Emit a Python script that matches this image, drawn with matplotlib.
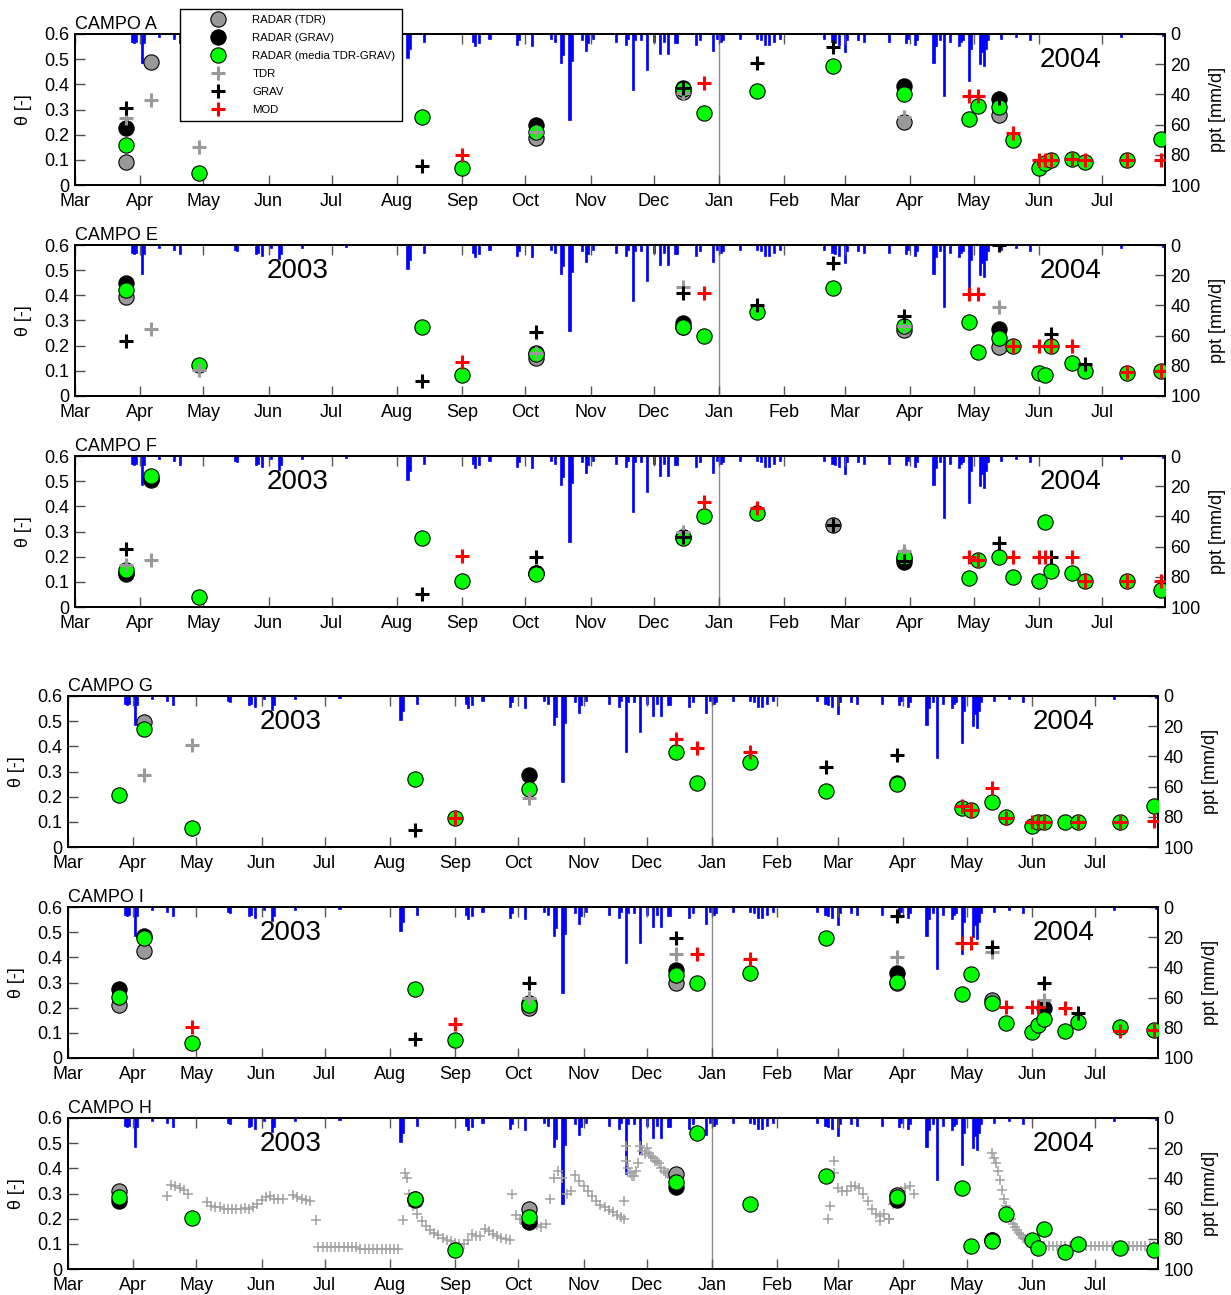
import numpy as np
import matplotlib
matplotlib.use('Agg')
import matplotlib.pyplot as plt
from matplotlib.lines import Line2D

plt.rcParams['font.family'] = ['Liberation Sans', 'DejaVu Sans']

n = np.nan

# ---------------- campaign dates ----------------
campaign_dates = np.array(['2003-03-25', '2003-04-06', '2003-04-29', '2003-08-13', '2003-09-01',
                           '2003-10-06', '2003-12-15', '2003-12-25', '2004-01-19', '2004-02-24',
                           '2004-03-29', '2004-04-29', '2004-05-03', '2004-05-13', '2004-05-20',
                           '2004-06-01', '2004-06-04', '2004-06-07', '2004-06-17', '2004-06-23',
                           '2004-07-13', '2004-07-29'], dtype='datetime64[D]')

# ---------------- CAMPO A ----------------
A_radar_tdr  = [0.09, 0.488, n, n, n, 0.186, 0.37, n, n, n, 0.25, n, n, 0.278, n, n, n, n, n, n, n, n]
A_radar_grav = [0.226, n, n, n, n, 0.238, 0.385, n, n, n, 0.393, n, n, 0.34, n, n, n, n, n, n, n, n]
A_radar_mean = [0.159, n, 0.048, 0.27, 0.068, 0.21, 0.38, 0.287, 0.375, 0.474, 0.36, 0.262, 0.314, 0.31,
                0.18, 0.068, 0.087, 0.1, 0.105, 0.09, 0.1, 0.182]
A_tdr  = [0.265, 0.338, 0.152, n, n, 0.21, 0.365, n, n, n, 0.27, n, n, n, n, n, n, n, n, n, n, n]
A_grav = [0.305, n, n, 0.076, n, n, 0.385, n, 0.485, 0.55, n, n, n, 0.345, n, n, n, n, n, n, n, n]
A_mod  = [n, n, n, n, 0.12, n, n, 0.405, n, n, n, 0.355, 0.355, n, 0.206, 0.1, 0.1, 0.1, 0.105, 0.1, 0.1, 0.1]

# ---------------- CAMPO E ----------------
E_radar_tdr  = [0.393, n, n, n, n, 0.151, 0.275, n, n, n, 0.262, n, n, 0.195, n, n, n, n, n, n, n, n]
E_radar_grav = [0.449, n, n, n, n, 0.17, 0.29, n, n, n, n, n, n, 0.266, n, n, n, n, n, n, n, n]
E_radar_mean = [0.42, n, 0.123, 0.274, 0.083, 0.167, 0.274, 0.238, 0.334, 0.43, 0.278, 0.294, 0.175, 0.23,
                0.2, 0.09, 0.083, 0.2, 0.13, 0.1, 0.09, 0.1]
E_tdr  = [n, 0.266, 0.103, n, n, 0.17, 0.433, n, n, n, 0.28, n, n, 0.354, n, n, n, n, n, n, n, n]
E_grav = [0.218, n, n, 0.06, n, 0.254, 0.41, n, 0.36, 0.528, 0.318, n, n, 0.6, n, n, n, 0.246, n, 0.127, n, n]
E_mod  = [n, n, n, n, 0.135, n, n, 0.41, n, n, n, 0.405, 0.405, n, 0.2, 0.2, n, 0.2, 0.2, n, 0.095, 0.1]

# ---------------- CAMPO F ----------------
F_radar_tdr  = [0.135, 0.509, n, n, n, 0.135, 0.28, n, n, 0.326, 0.19, n, n, n, n, n, n, n, n, n, n, n]
F_radar_grav = [0.13, 0.505, n, n, n, 0.135, 0.28, n, n, n, 0.18, n, n, n, n, n, n, n, n, n, n, n]
F_radar_mean = [0.147, 0.52, 0.04, 0.274, 0.103, 0.13, 0.274, 0.36, 0.373, n, 0.2, 0.115, 0.187, 0.2,
                0.12, 0.103, 0.337, 0.143, 0.135, 0.103, 0.103, 0.068]
F_tdr  = [0.167, 0.187, n, n, n, n, 0.3, n, n, n, 0.222, n, n, n, n, n, n, n, n, n, n, n]
F_grav = [0.23, n, n, 0.052, n, 0.2, 0.28, n, n, 0.326, 0.183, n, n, 0.254, n, n, n, 0.2, n, n, n, n]
F_mod  = [n, n, n, n, 0.203, n, n, 0.417, 0.393, n, n, 0.2, 0.187, n, 0.2, 0.2, 0.2, n, 0.2, 0.103, 0.103, 0.103]

# ---------------- CAMPO G ----------------
G_radar_tdr  = [n, 0.497, n, n, n, n, n, n, n, n, n, n, n, n, n, n, n, n, n, n, n, n]
G_radar_grav = [n, n, n, n, n, 0.286, n, n, n, n, 0.254, n, n, n, n, n, n, n, n, n, n, n]
G_radar_mean = [0.207, 0.469, 0.075, 0.27, 0.115, 0.23, 0.377, 0.254, 0.338, 0.222, 0.25, 0.155, 0.147, 0.179,
                0.119, 0.083, 0.1, 0.1, 0.1, 0.1, 0.1, 0.163]
G_tdr  = [n, 0.286, 0.405, n, n, 0.195, n, n, n, n, n, n, n, n, n, n, n, n, n, n, n, n]
G_grav = [n, n, n, 0.068, n, n, n, n, n, 0.318, 0.366, n, n, n, n, n, n, n, n, n, n, n]
G_mod  = [n, n, n, n, 0.115, n, 0.43, 0.393, 0.377, n, n, 0.163, 0.147, 0.234, 0.115, 0.1, 0.1, 0.1, n, 0.1, 0.1, 0.103]

# ---------------- CAMPO I ----------------
I_radar_tdr  = [0.21, 0.425, n, n, n, 0.2, 0.3, n, n, n, 0.3, n, n, 0.23, n, n, n, n, n, n, n, n]
I_radar_grav = [0.274, 0.485, n, n, n, 0.22, 0.35, n, n, n, 0.338, n, n, n, n, n, n, 0.2, n, n, n, n]
I_radar_mean = [0.242, 0.477, 0.06, 0.274, 0.07, 0.21, 0.33, 0.298, 0.338, 0.477, 0.302, 0.254, 0.334, 0.22,
                0.14, 0.103, 0.13, 0.155, 0.107, 0.143, 0.123, 0.111]
I_tdr  = [n, n, n, n, n, 0.238, 0.413, n, n, n, 0.4, n, n, 0.42, n, n, n, 0.23, n, n, n, n]
I_grav = [n, n, n, 0.075, n, 0.298, 0.477, n, n, n, 0.564, n, n, 0.44, n, n, n, 0.298, n, 0.18, n, n]
I_mod  = [n, n, 0.123, n, 0.135, n, n, 0.413, 0.393, n, n, 0.457, 0.457, n, 0.203, 0.203, 0.203, n, 0.2, n, 0.107, 0.111]

# ---------------- CAMPO H ----------------
H_radar_tdr  = [0.31, n, n, 0.28, n, 0.238, 0.377, n, n, n, 0.294, n, n, 0.115, n, n, n, n, n, n, n, n]
H_radar_grav = [0.27, n, n, 0.275, n, 0.187, 0.326, n, n, n, 0.274, n, n, 0.115, n, n, n, n, n, n, n, n]
H_radar_mean = [0.286, n, 0.203, 0.278, 0.075, 0.207, 0.346, 0.54, 0.258, 0.37, 0.286, 0.322, 0.091, 0.111,
                0.22, 0.117, 0.085, 0.159, 0.068, 0.1, 0.085, 0.075]

# continuous TDR readings of CAMPO H: (first date, days between readings, values)
H_tdr_seg_starts = ['2003-04-17', '2003-05-06', '2003-06-16', '2003-06-28', '2003-08-08', '2003-09-28',
                    '2003-10-16', '2003-11-21', '2004-02-26', '2004-05-13', '2004-06-05']
H_tdr_seg_steps = [2, 2, 2, 2, 2, 2, 2, 1, 2, 1, 2]
H_tdr_seg1 = [0.29, 0.335, 0.33, 0.32, 0.315, 0.30]
H_tdr_seg2 = [0.265, 0.25, 0.248, 0.245, 0.24, 0.24, 0.24, 0.24, 0.24, 0.242, 0.24, 0.245, 0.26, 0.275,
              0.285, 0.29, 0.28, 0.28, 0.28]
H_tdr_seg3 = [0.295, 0.285, 0.28, 0.275, 0.27]
H_tdr_seg4 = [0.087, 0.087, 0.087, 0.087, 0.087, 0.087, 0.087, 0.087, 0.087, 0.087,
              0.08, 0.08, 0.08, 0.08, 0.08, 0.08, 0.08, 0.08, 0.08, 0.08]
H_tdr_seg5 = [0.38, 0.30, 0.25, 0.22, 0.19, 0.17, 0.155, 0.145, 0.135, 0.125, 0.115, 0.11, 0.105, 0.1,
              0.1, 0.115, 0.14, 0.13, 0.13, 0.16, 0.15, 0.14, 0.13, 0.125, 0.12, 0.115]
H_tdr_seg6 = [0.30, 0.215, 0.2, 0.18, 0.17, 0.19, 0.175, 0.165, 0.18]
H_tdr_seg7 = [0.28, 0.36, 0.39, 0.36, 0.3, 0.31, 0.375, 0.35, 0.33, 0.31, 0.29, 0.27, 0.255, 0.245, 0.235,
              0.225, 0.215]
H_tdr_seg8 = [0.43, 0.40, 0.38, 0.37, 0.37, 0.39, 0.42, 0.49, 0.47, 0.455, 0.48, 0.46, 0.45, 0.44, 0.43,
              0.43, 0.42, 0.40, 0.39, 0.38, 0.38, 0.37, 0.36, 0.35, 0.34]
H_tdr_seg9 = [0.25, 0.38, 0.32, 0.31, 0.31, 0.33, 0.33, 0.32, 0.30, 0.27, 0.24, 0.22, 0.21, 0.22, 0.2,
              0.26, 0.29, 0.31, 0.32, 0.33, 0.30]
H_tdr_seg10 = [0.46, 0.44, 0.42, 0.39, 0.355, 0.315, 0.28, 0.25, 0.225, 0.2, 0.18, 0.165, 0.155, 0.145,
               0.135, 0.125, 0.12, 0.115, 0.11, 0.105, 0.1, 0.1]
H_tdr_seg11 = [0.095, 0.092, 0.092, 0.092, 0.092, 0.092, 0.092, 0.092, 0.092, 0.092, 0.092, 0.092, 0.092,
               0.092, 0.092, 0.092, 0.092, 0.092, 0.092, 0.092, 0.092, 0.092, 0.092, 0.092, 0.092, 0.092,
               0.092, 0.092, 0.092]
H_tdr_extra_dates = ['2003-06-27', '2003-08-07', '2003-08-09', '2003-11-19', '2003-11-20', '2003-11-20',
                     '2003-11-21', '2004-02-25', '2004-02-28', '2004-03-21', '2004-03-25']
H_tdr_extra_vals = [0.195, 0.195, 0.36, 0.205, 0.2, 0.27, 0.49, 0.2, 0.43, 0.19, 0.2]

# ---------------- daily precipitation (mm/d) ----------------
rain_dates = ['2003-03-28', '2003-03-29', '2003-03-30', '2003-04-02', '2003-04-03', '2003-04-10',
              '2003-04-17', '2003-04-20', '2003-05-16', '2003-05-17', '2003-05-26', '2003-05-27',
              '2003-05-29', '2003-06-02', '2003-06-06', '2003-06-07', '2003-06-17', '2003-07-08',
              '2003-08-06', '2003-08-07', '2003-08-14', '2003-09-06', '2003-09-07', '2003-09-09',
              '2003-09-14', '2003-09-27', '2003-09-28', '2003-10-04', '2003-10-13', '2003-10-15',
              '2003-10-18', '2003-10-19', '2003-10-22', '2003-10-23', '2003-10-28', '2003-10-30',
              '2003-10-31', '2003-11-02', '2003-11-13', '2003-11-18', '2003-11-19', '2003-11-21',
              '2003-11-22', '2003-11-25', '2003-11-28', '2003-12-01', '2003-12-04', '2003-12-06',
              '2003-12-08', '2003-12-11', '2003-12-12', '2003-12-21', '2003-12-23', '2003-12-29',
              '2003-12-31', '2004-01-02', '2004-01-03', '2004-01-11', '2004-01-19', '2004-01-21',
              '2004-01-23', '2004-01-25', '2004-01-27', '2004-01-30', '2004-02-20', '2004-02-24',
              '2004-02-25', '2004-02-27', '2004-03-01', '2004-03-02', '2004-03-07', '2004-03-10',
              '2004-03-22', '2004-03-30', '2004-03-31', '2004-04-03', '2004-04-04', '2004-04-12',
              '2004-04-13', '2004-04-15', '2004-04-17', '2004-04-20', '2004-04-24', '2004-04-25',
              '2004-04-26', '2004-04-29', '2004-04-30', '2004-05-04', '2004-05-05', '2004-05-06',
              '2004-05-07', '2004-05-08', '2004-05-14', '2004-05-21', '2004-05-28', '2004-07-10',
              '2004-07-30']
rain_mm = [5, 6, 5, 19, 6, 2, 3, 6, 3, 4, 6, 5, 7, 2, 9, 6, 2, 1,
           16, 10, 5, 5, 8, 6, 3, 7, 4, 8, 3, 5, 19, 14, 57, 18, 4, 11,
           6, 3, 5, 7, 3, 37, 4, 4, 24, 5, 13, 5, 13, 6, 6, 7, 4, 11,
           3, 5, 4, 3, 3, 4, 7, 7, 5, 3, 3, 5, 6, 7, 12, 4, 4, 5,
           5, 6, 3, 7, 4, 19, 8, 4, 41, 5, 8, 5, 4, 31, 10, 20, 12, 21,
           10, 4, 3, 2, 4, 2, 1]

month_labels = ['Mar', 'Apr', 'May', 'Jun', 'Jul', 'Aug', 'Sep', 'Oct', 'Nov', 'Dec',
                'Jan', 'Feb', 'Mar', 'Apr', 'May', 'Jun', 'Jul']
month_ticks = np.array(['2003-03-01', '2003-04-01', '2003-05-01', '2003-06-01', '2003-07-01',
                        '2003-08-01', '2003-09-01', '2003-10-01', '2003-11-01', '2003-12-01',
                        '2004-01-01', '2004-02-01', '2004-03-01', '2004-04-01', '2004-05-01',
                        '2004-06-01', '2004-07-01'], dtype='datetime64[D]')
theta_ticks = [0, 0.1, 0.2, 0.3, 0.4, 0.5, 0.6]
theta_labels = ['0', '0.1', '0.2', '0.3', '0.4', '0.5', '0.6']
ppt_ticks = [0, 20, 40, 60, 80, 100]

GRAY = '#999999'
GREEN = '#00FF00'

fig = plt.figure(figsize=(12.31, 12.95), dpi=100)

W = 1231.0
H = 1295.0
panels = [
    ('CAMPO A', 75, 34, A_radar_tdr, A_radar_grav, A_radar_mean, A_tdr, A_grav, A_mod, False),
    ('CAMPO E', 75, 245, E_radar_tdr, E_radar_grav, E_radar_mean, E_tdr, E_grav, E_mod, True),
    ('CAMPO F', 75, 456, F_radar_tdr, F_radar_grav, F_radar_mean, F_tdr, F_grav, F_mod, True),
    ('CAMPO G', 68, 696, G_radar_tdr, G_radar_grav, G_radar_mean, G_tdr, G_grav, G_mod, True),
    ('CAMPO I', 68, 907, I_radar_tdr, I_radar_grav, I_radar_mean, I_tdr, I_grav, I_mod, True),
    ('CAMPO H', 68, 1118, H_radar_tdr, H_radar_grav, H_radar_mean, None, None, None, True),
]
H_tdr_segs = [H_tdr_seg1, H_tdr_seg2, H_tdr_seg3, H_tdr_seg4, H_tdr_seg5, H_tdr_seg6,
              H_tdr_seg7, H_tdr_seg8, H_tdr_seg9, H_tdr_seg10, H_tdr_seg11]

rd = np.array(rain_dates, dtype='datetime64[D]')
xmin = np.datetime64('2003-03-01')
xmax = np.datetime64('2004-07-31')

circ = dict(linestyle='none', marker='o', markersize=11, markeredgecolor='k', markeredgewidth=0.8)
plus = dict(linestyle='none', marker='+', markersize=10, markeredgewidth=2.2)
small_plus = dict(linestyle='none', marker='+', markersize=7, markeredgewidth=1.1, color='#a0a0a0')

for (name, left, top, rtdr, rgrav, rmean, tdr, grav, mod, show2003) in panels:
    ax = fig.add_axes([left / W, 1 - (top + 151) / H, 1090 / W, 151 / H])
    ax2 = ax.twinx()
    ax2.bar(rd, rain_mm, width=1.0, color='#0000FF', edgecolor='#0000FF', linewidth=0.5, align='center')
    ax2.set_ylim(100, 0)
    ax2.set_yticks(ppt_ticks)
    ax2.tick_params(axis='y', direction='in', length=7, width=1, labelsize=13, pad=4, color='0.3')
    ax2.set_ylabel('ppt [mm/d]', fontsize=13)
    ax2.yaxis.set_label_coords(1.040, 0.5)
    ax.set_zorder(ax2.get_zorder() + 1)
    ax.patch.set_visible(False)

    ax.axvline(np.datetime64('2004-01-01'), color='0.55', lw=1.0, zorder=1)

    if name == 'CAMPO H':
        for s, st, seg in zip(H_tdr_seg_starts, H_tdr_seg_steps, H_tdr_segs):
            dts = np.datetime64(s) + np.arange(len(seg)) * st
            ax.plot(dts, seg, zorder=2, **small_plus)
        ax.plot(np.array(H_tdr_extra_dates, dtype='datetime64[D]'), H_tdr_extra_vals, zorder=2, **small_plus)

    ax.plot(campaign_dates, rtdr, markerfacecolor=GRAY, zorder=3, **circ)
    ax.plot(campaign_dates, rgrav, markerfacecolor='k', zorder=4, **circ)
    ax.plot(campaign_dates, rmean, markerfacecolor=GREEN, zorder=5, **circ)
    if tdr is not None:
        ax.plot(campaign_dates, tdr, color=GRAY, zorder=6, **plus)
        ax.plot(campaign_dates, grav, color='k', zorder=7, **plus)
        ax.plot(campaign_dates, mod, color='#FF0000', zorder=8, **plus)

    ax.set_xlim(xmin, xmax)
    ax.set_ylim(0, 0.6)
    ax.set_xticks(month_ticks)
    ax.set_xticklabels(month_labels)
    ax.set_yticks(theta_ticks)
    ax.set_yticklabels(theta_labels)
    ax.tick_params(axis='x', direction='in', length=7, width=1, labelsize=13, pad=6,
                   top=True, color='0.35')
    ax.tick_params(axis='y', direction='in', length=7, width=1, labelsize=13, pad=4, color='0.3')
    ax.set_ylabel('θ [-]', fontsize=13)
    ax.yaxis.set_label_coords(-0.039, 0.5)
    for a in (ax, ax2):
        for sp in a.spines.values():
            sp.set_linewidth(1.3)
    ax.text(0.0, 1.005, name, transform=ax.transAxes, fontsize=13, ha='left', va='bottom')
    if show2003:
        ax.text(0.204, 0.825, '2003', transform=ax.transAxes, fontsize=20, ha='center', va='center')
    ax.text(0.913, 0.825, '2004', transform=ax.transAxes, fontsize=20, ha='center', va='center')

handles = [
    Line2D([], [], markerfacecolor=GRAY, **circ),
    Line2D([], [], markerfacecolor='k', **circ),
    Line2D([], [], markerfacecolor=GREEN, **circ),
    Line2D([], [], color=GRAY, **plus),
    Line2D([], [], color='k', **plus),
    Line2D([], [], color='#FF0000', **plus),
]
labels = ['RADAR (TDR)', 'RADAR (GRAV)', 'RADAR (media TDR-GRAV)', 'TDR', 'GRAV', 'MOD']
leg = fig.legend(handles, labels, loc='upper left', bbox_to_anchor=(180 / W, 1 - 9 / H),
                 fontsize=8.2, frameon=True, fancybox=False, edgecolor='k', framealpha=1,
                 borderpad=0.55, labelspacing=0.7, handlelength=5.5, handletextpad=0.3,
                 borderaxespad=0)
leg.get_frame().set_linewidth(1.0)
leg.set_zorder(20)

fig.savefig('out.png', dpi=100)
